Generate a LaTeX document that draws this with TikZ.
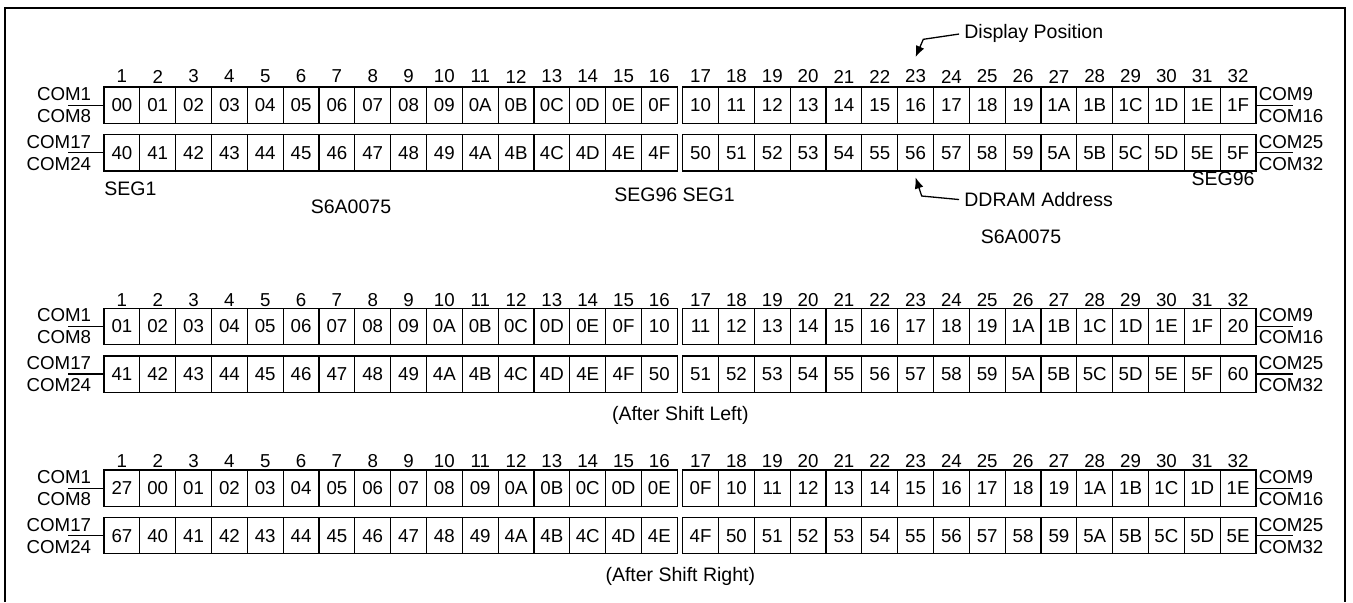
\documentclass[tikz,border=0pt]{standalone}
\usepackage{fontspec}
\setmainfont{Liberation Sans}
\usetikzlibrary{arrows.meta}
\newcommand{\cellrow}[3]{%
  \foreach \t [count=\i from 0] in {#3} {%
    \pgfmathsetmacro{\cx}{104+(\i+0.5)*35.83+(\i>15)*5.4}%
    \node[cell] (#1\i) at (\cx,#2+18.15) {\t};
  }}
\newcommand{\colnums}[2]{%
  \foreach \n [count=\i from 0] in {1,...,32} {%
    \pgfmathsetmacro{\cx}{104+(\i+0.5)*35.83+(\i>15)*5.4}%
    \node[lbl] (#1\n) at (\cx,#2) {\n};
  }}
\newcommand{\comlbl}[6]{% row prefix, line y, left top, left bottom, right top, right bottom
  \coordinate (#1L) at (68,#2);
  \coordinate (#1R) at (1293,#2);
  \draw[wire] (#1L) -- (#1L -| #10.west);
  \draw[wire] (#1R -| #131.east) -- (#1R);
  \node[lbl,anchor=east] (#1lt) at (91.5,#2-11) {#3};
  \node[lbl,anchor=east] (#1lb) at (91.5,#2+11) {#4};
  \node[lbl,anchor=west] (#1rt) at (1258.5,#2-11) {#5};
  \node[lbl,anchor=west] (#1rb) at (1258.5,#2+11) {#6};
}
\begin{document}
\begin{tikzpicture}[x=0.5pt,y=-0.5pt,
  cell/.style={draw,line width=0.6pt,minimum width=17.915pt,minimum height=18.15pt,inner sep=0pt,font=\fontsize{9.35}{11}\selectfont},
  lbl/.style={inner sep=0pt,font=\fontsize{9.35}{11}\selectfont},
  txt/.style={inner sep=0pt,font=\fontsize{9.75}{11}\selectfont},
  wire/.style={line width=0.6pt},
  arr/.style={line width=0.65pt,shorten <=2.5pt,-{Latex[length=5.5pt,width=4.5pt]}},
  frame/.style={line width=1pt}]
\useasboundingbox (0,0) rectangle (1353,602);
\draw[frame] (5,602) -- (5,7.5) -- (1345,7.5) -- (1345,602);

% Section 1
\colnums{sa}{76.5}
\cellrow{pa}{87}{00,01,02,03,04,05,06,07,08,09,0A,0B,0C,0D,0E,0F,10,11,12,13,14,15,16,17,18,19,1A,1B,1C,1D,1E,1F}
\cellrow{pb}{134.6}{40,41,42,43,44,45,46,47,48,49,4A,4B,4C,4D,4E,4F,50,51,52,53,54,55,56,57,58,59,5A,5B,5C,5D,5E,5F}
\comlbl{pa}{105.2}{COM1}{COM8}{COM9}{COM16}
\comlbl{pb}{152.7}{COM17}{COM24}{COM25}{COM32}
\node[txt,anchor=west] (seg1a) at (104,189) {SEG1};
\node[txt] (chip1) at (351,207) {S6A0075};
\node[txt] (segmid) at (674.5,195) {SEG96 SEG1};
\node[txt] (seg96b) at (1223,178.3) {SEG96};
\node[txt] (chip2) at (1021,236.7) {S6A0075};
\node[txt,anchor=west] (disp) at (964,33.3) {Display Position};
\node[txt,anchor=west] (ddram) at (964,200) {DDRAM Address};
\coordinate (dbend) at (923.3,39.3);
\coordinate (dtip) at (915.6,57);
\draw[arr] (disp.west) -- (dbend) -- (dtip);
\coordinate (abend) at (921.7,196);
\coordinate (atip) at (915.6,177.5);
\draw[arr] (ddram.west) -- (abend) -- (atip);

% Section 2
\colnums{sb}{300}
\cellrow{qa}{308.3}{01,02,03,04,05,06,07,08,09,0A,0B,0C,0D,0E,0F,10,11,12,13,14,15,16,17,18,19,1A,1B,1C,1D,1E,1F,20}
\cellrow{qb}{355.9}{41,42,43,44,45,46,47,48,49,4A,4B,4C,4D,4E,4F,50,51,52,53,54,55,56,57,58,59,5A,5B,5C,5D,5E,5F,60}
\comlbl{qa}{326.5}{COM1}{COM8}{COM9}{COM16}
\comlbl{qb}{374}{COM17}{COM24}{COM25}{COM32}
\node[txt] (shl) at (680.3,415) {(After Shift Left)};

% Section 3
\colnums{sc}{461}
\cellrow{ra}{470}{27,00,01,02,03,04,05,06,07,08,09,0A,0B,0C,0D,0E,0F,10,11,12,13,14,15,16,17,18,19,1A,1B,1C,1D,1E}
\cellrow{rb}{517.5}{67,40,41,42,43,44,45,46,47,48,49,4A,4B,4C,4D,4E,4F,50,51,52,53,54,55,56,57,58,59,5A,5B,5C,5D,5E}
\comlbl{ra}{488.2}{COM1}{COM8}{COM9}{COM16}
\comlbl{rb}{535.6}{COM17}{COM24}{COM25}{COM32}
\node[txt] (shr) at (680.3,576) {(After Shift Right)};
\end{tikzpicture}
\end{document}
